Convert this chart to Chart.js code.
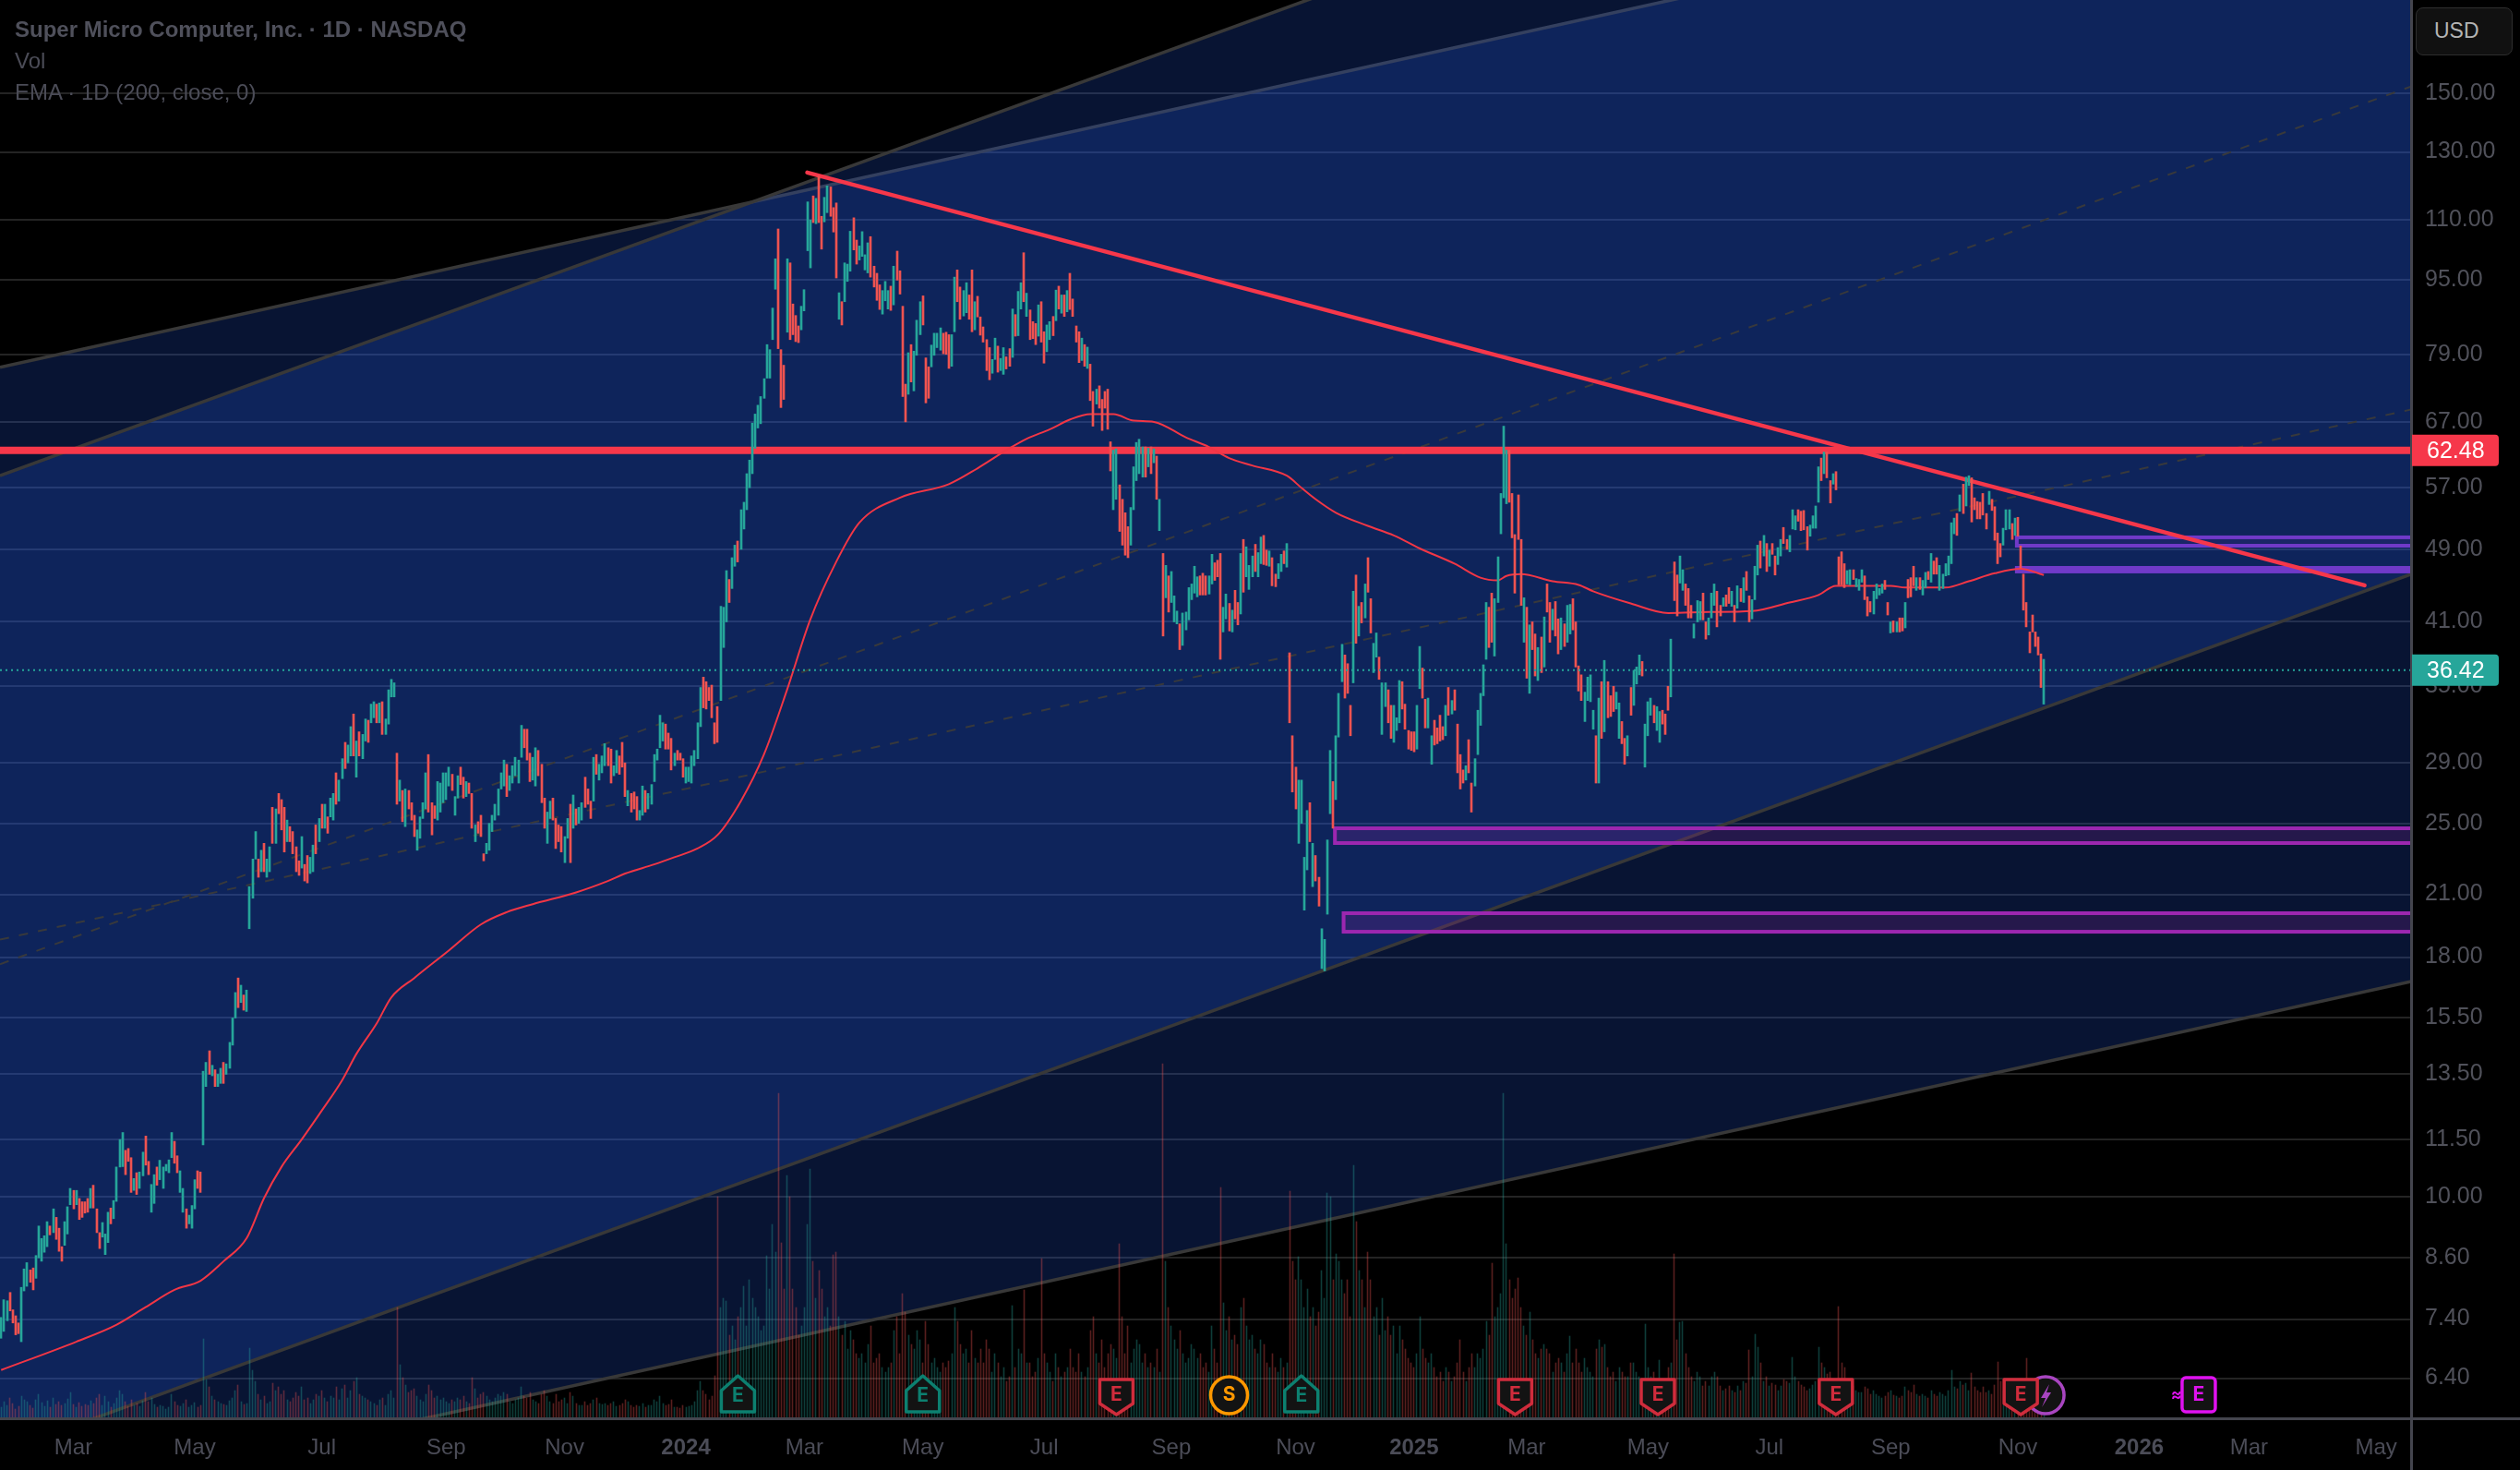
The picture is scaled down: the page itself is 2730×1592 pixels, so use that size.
<!DOCTYPE html>
<html>
<head>
<meta charset="utf-8">
<title>SMCI 1D</title>
<script src="https://cdn.jsdelivr.net/npm/chart.js@4"></script>
<style>
html, body { margin: 0; padding: 0; background: #000; }
#wrap { position: relative; width: 2730px; height: 1592px; overflow: hidden; }
canvas { position: absolute; left: 0; top: 0; }
.legend { position: absolute; left: 16px; font: 24px "Liberation Sans", sans-serif; color: #4b4c57; white-space: nowrap; line-height: 30px; }
#title { top: 17px; font-weight: 700; color: #4f505b; }
#vol { top: 51px; }
#ema { top: 85px; }
#usd { position: absolute; left: 2617px; top: 8px; width: 105px; height: 52px; box-sizing: border-box; background: #111; border: 1.5px solid #2e2e2e; border-radius: 8px; color: #b4b4b4; font: 23px "Liberation Sans", sans-serif; line-height: 49px; padding-left: 19px; }
</style>
</head>
<body>
<div id="wrap">
<canvas id="chart" width="2730" height="1592"></canvas>
<div class="legend" id="title">Super Micro Computer, Inc. · 1D · NASDAQ</div>
<div class="legend" id="vol">Vol</div>
<div class="legend" id="ema">EMA · 1D (200, close, 0)</div>
<div id="usd">USD</div>
</div>
<script>
// daily bars, ten per row
const barHigh = [
  7.43,7.76,7.74,7.9,7.57,7.46,7.33,8.0,8.37,8.5,
  8.35,8.39,8.65,9.3,9.02,9.08,9.4,9.3,9.7,9.5,
  9.25,8.84,9.4,9.75,10.2,10.15,10.15,9.95,9.87,9.87,
  9.95,10.2,10.28,9.7,9.15,9.38,9.12,9.62,9.72,9.9,
  10.75,11.5,11.7,11.2,11.25,11.0,10.45,10.6,10.62,11.15,
  11.6,10.9,10.3,10.55,10.75,10.93,10.75,10.82,10.94,11.7,
  11.45,11.05,10.65,10.2,9.7,9.55,9.78,10.42,10.65,10.62,
  13.6,13.9,14.3,13.8,13.65,13.5,13.7,13.9,13.85,14.6,
  15.5,16.5,17.1,16.8,16.4,16.6,21.4,22.9,24.5,22.9,
  23.4,23.8,22.9,23.6,26.0,25.9,26.9,26.5,26.0,25.2,
  24.8,24.5,23.6,22.8,24.2,22.6,23.1,23.0,23.7,24.9,
  25.3,26.2,26.2,25.4,26.6,26.9,28.3,27.8,29.3,30.5,
  30.3,31.7,32.7,30.6,31.3,31.1,32.3,32.2,33.5,33.7,
  33.5,33.6,33.7,32.3,34.7,35.6,35.3,29.7,27.8,27.1,
  27.2,27.1,26.3,25.5,24.6,25.4,26.3,28.3,29.6,26.3,
  26.1,27.7,27.6,28.3,28.3,28.7,28.2,26.7,28.1,28.7,
  28.0,27.7,27.6,26.9,24.9,25.1,25.5,23.2,23.8,25,
  25.5,26.2,27.2,28.3,29.2,28.9,28.1,28.8,29.4,29.2,
  31.8,31.5,31.5,29.7,29.4,30.1,29.9,28.9,26.6,25.7,
  26.4,26.6,25.3,24.9,24.8,24.2,25.3,26.2,26.8,25.9,
  26.0,26.3,28,27.2,26.4,29.4,29.6,28.9,29.5,30.4,
  30.1,30.0,28.8,29.9,29.5,30.5,29,27.1,26.9,27,
  26.7,25.8,27.4,27.1,26.9,27.5,29.6,30,32.6,32,
  31.9,31.2,30.8,29.7,29.9,29.7,29.3,28.7,28.7,29.5,
  29.9,32,34.9,35.8,35.4,34.9,35.1,32,33.3,42.6,
  42.5,46.5,45.5,48,49.5,50,54,55,59,61,
  66.8,68.3,69.8,71.3,74.5,81,80,88.6,100,107.6,
  80,77,100,99,89.5,87,84.8,89,92.7,115,
  110,116.7,116,122.6,111,116.3,119.6,119.3,113.4,114.7,
  92,90,99,98.7,107,110.6,104.7,103.2,106.9,101,
  104,105.6,98.2,96.5,93.8,92.5,94.6,92.5,93.5,98.2,
  101.9,97.1,89,73.5,79.4,81,79.7,86,90,91.3,
  78.4,76.7,80.9,83.3,83.3,84.4,83.3,83.5,83,83,
  95.6,97.3,93.3,92.5,94.3,91.5,97.3,90,91.2,86.7,
  84.6,82,80.4,78.1,82.3,80.7,78.3,80.4,78.6,80.2,
  88.4,87.2,92.3,94.3,101.5,91.9,88.2,85.7,85.3,89.3,
  90,83.6,85,85.7,86.8,92.6,93.5,91.5,91.5,92.5,
  96.5,90.6,84.8,83.6,82.3,81,80.5,77.2,72.2,72.6,
  73.2,70.8,72.2,72.6,63.8,62.5,62.7,57.4,55.4,53.6,
  51.8,54.3,60,63.7,64.2,63,63,62.8,63,62.7,
  61.6,55.4,48.5,47.1,45.9,46.4,43.7,42.1,40.8,41.9,
  42,44.6,45,47,45.8,45.9,46.2,45.9,45.9,48.4,
  47.4,47.7,48.5,42.5,43.9,42.9,42.2,44.3,43,48.5,
  50.2,49.3,47.1,48.2,49.6,48.6,50.5,50.7,48.9,48.8,
  48,46.1,47.3,48.4,48.8,49.7,38,31,28.7,27.8,
  27.8,23,25.8,26.3,23.8,23.1,21.9,19.3,18.8,24,
  29.9,27.7,31,34.4,38.8,37.8,37,33.4,44.2,46,
  42.6,43,45,48,43.4,38.9,39.9,37.6,35.3,35.3,
  34.7,33.4,33.4,32.4,35.5,35.4,33.5,31.4,31.3,31.3,
  33.4,38.6,36.6,33.9,34,31,32.2,31.6,32.6,31.7,
  33.4,34.9,33.8,34.7,31.9,29.6,28.5,28.8,30.7,27.6,
  29.3,33,34.4,36.9,43,42.5,44,43.4,48.1,56.2,
  66.3,62.5,62.5,56.2,50.8,56,50.2,43.5,42.5,40.7,
  41,39.8,38.5,39.5,41.5,45,43,42.3,43.1,41.3,
  41.4,40.8,42.7,42.8,43.4,41,36.8,36,34.5,35.8,
  36,33,31,34,35.4,37.3,35.4,34.2,35,34.5,
  33.6,32.1,30.8,31,34.9,36.4,36.7,37.8,37.2,31.9,
  33.7,34,33.4,33.3,32.9,33,32.7,35,39.3,47.5,
  46,48.2,46.6,45,44.5,42.7,40.8,43.2,43.1,44,
  41,41.4,44,45,44.2,42.7,43.5,43.8,44.6,44.2,
  42.7,44.8,44.5,45.7,46.4,43.7,43.3,47,49.5,50,
  50.7,49.7,48.9,49.7,48.2,49.2,50.2,51.7,50.2,50.7,
  54,53.2,54,53.8,53.9,51.8,52,53.2,54.5,60,
  61.3,62.2,62.2,58,59,59.3,48.1,48.7,47.3,46.5,
  46.6,46.6,45.6,45.5,46.6,45.9,43.6,43.1,44.2,45,
  44.5,45,45.4,43,41,41.1,41,41.4,41.4,43,
  45.5,45.7,47,45.7,45.7,45.4,46.3,46.4,48.5,47.6,
  48,47.1,46.1,47.3,48.2,52.3,52.9,53.5,56,57.5,
  58.5,58.7,58.4,55.6,55.1,55,56.2,53.5,56.5,55.4,
  54.4,51,49.7,51.6,54,54,52.2,52.9,53,49.4,
  46.1,43,40,41.7,40,39.5,37.9,37.4
];
const barLow = [
  7.06,7.18,7.37,7.55,7.33,7.12,7.14,7.0,7.93,8.02,
  8.1,7.95,8.18,8.6,8.53,8.72,8.84,9.1,9.15,9.0,
  8.74,8.53,8.87,9.12,9.8,9.7,9.8,9.45,9.5,9.6,
  9.62,9.72,9.72,9.15,8.8,9.05,8.67,8.93,9.35,9.47,
  9.88,10.75,10.76,10.55,10.9,10.1,10.15,10.05,10.2,10.52,
  10.8,10.55,9.62,9.83,10.28,10.42,10.2,10.65,10.6,11.0,
  10.85,10.6,10.1,9.62,9.25,9.35,9.25,9.7,10.2,10.1,
  11.35,13.1,13.5,13.45,13.1,13.1,13.2,13.2,13.5,13.7,
  14.5,15.5,15.9,16.1,15.8,15.75,19.3,20.8,22.9,21.9,
  22.2,22.2,21.9,22.2,23.8,23.8,25.6,24.6,23.3,23.9,
  23.9,23.2,22.2,22.0,22.4,21.7,21.6,22.1,22.2,23.2,
  23.9,24.7,24.7,24.4,25.4,25.2,26.2,26.4,27.9,28.6,
  29.0,29.5,29.5,28,29.5,29.3,30.6,30.5,32,32.4,
  32,32,31.1,31.1,31.9,34.1,34.1,26.2,26.4,25.1,
  24.8,25.9,25.2,24.2,23.4,24.1,25.3,25.9,25.7,24.3,
  25.3,25.2,25.7,26.3,26.5,27.4,27.1,25.5,26.6,27.5,
  26.6,26.7,26.9,24.7,23.9,24.4,24.2,22.8,23.2,23.4,
  24.5,25.2,25.5,27.2,27.4,26.7,27.1,27.6,28.1,27.6,
  29.4,30.1,29.2,27.7,27.8,27.4,28.1,26.3,24.7,23.8,
  25.3,25.2,23.5,23.9,23.3,22.7,24.1,22.7,24.7,24.9,
  25.0,25.2,26,26.2,25.3,26.4,28.2,27.8,28.3,28.8,
  28.8,27.6,28.1,28.3,28.2,28.7,26.7,26.1,25.7,25.9,
  25.2,25.2,25.5,25.7,25.9,26.2,27.7,29.2,30.1,30.6,
  30,30,28.5,28.8,29.2,29.2,28,27.6,27.7,27.6,
  28.8,29.3,31.7,33.2,33.1,33.8,32.4,30.4,30.5,33.8,
  38.5,41,43,44.5,47,47.5,49,51.5,54,57,
  59,62.8,66,66.7,71,74.6,74.6,82,92.8,80.2,
  69.4,70.8,83.5,82,83,81.6,81.4,84,88,102,
  97.8,109.3,109,109.3,102.4,109.5,112,111,106.8,95.4,
  86.2,85,90,94.6,97,102.2,98.7,99.7,100.6,97.3,
  96.6,95.6,93.3,90.3,88.3,87.3,90.2,88.4,88.1,89.3,
  94.9,91.7,71.3,67,71.7,73.9,72.3,78.9,83,85,
  70.2,71,76.7,78.9,80.4,79.9,79.2,79.1,76.4,76.8,
  83.6,90,86.2,86.9,87.6,86.2,83.6,84,86.7,82.9,
  81.5,76,74.3,75.5,78.1,75.7,76,75.3,76.3,76.8,
  78.5,82.7,82.8,88.4,90,86.8,82,82.2,81,82.7,
  81.5,77.4,79.6,82,82.8,85.9,88.4,87.5,86.8,87.8,
  88.3,86.8,81.5,77.5,77.9,76.8,76.4,70.6,66.3,70,
  69.3,65.6,69.3,65.8,59.4,54,55.4,51.2,49.5,48.3,
  48,49.5,54,58,59,58.5,58.5,60,59,60.6,
  55.4,51.3,39.6,43.5,42,43,41,40.8,38.3,38.7,
  40.2,41.2,43.3,44,43.6,43.8,43.8,43.8,43.9,45,
  45.4,45.8,37.4,40,41.3,40.1,40,41.3,40.7,41.8,
  44.1,45.8,44.4,45.8,46.4,45.8,47.3,47.2,47.1,47,
  44.8,44.7,45.6,46.4,47.3,46.9,32,27,25.9,23.8,
  25,20.2,22.3,23.9,21.4,21.7,20.4,17.5,17.4,20,
  25.6,24.7,26.5,30.9,35.4,34,34.4,31,35.3,38.9,
  39.6,40.9,41.4,44.1,39.9,36.2,37.6,35.6,31.1,33.3,
  32,30.8,30.5,31.4,32,33.1,31.5,30,29.9,29.8,
  30,34.8,34,31.6,31.6,28.9,30.3,30.4,30.6,30.7,
  31,32.6,32.7,33,28.3,27.2,27.6,27.8,28.3,25.7,
  27.4,29.6,31.8,34.2,37.4,38.5,39,37.7,43,50.9,
  55.6,54.8,55,50.4,44,50.2,42.7,39,35.7,34.4,
  38.3,35.9,35.5,36.2,36.7,42,39,40.2,39.6,37.9,
  38.3,38.6,39,39.8,40.2,36.7,34.6,33.8,32.1,33.8,
  33.7,31.5,27.6,27.6,30.8,31.3,32.4,32.5,32.9,33.1,
  30.8,30.4,28.9,29.5,32.6,33.4,35.2,36,35.9,28.7,
  31,32.6,32,31.4,30.5,31.9,31.1,33,34.1,43.2,
  41.6,45.1,44.3,42.7,41.4,41.4,39.4,41,41.2,41.2,
  39.3,39.7,41.4,42.7,40.5,41.6,42.6,42.6,42.9,42.6,
  41,42.4,43.1,43,44.3,41,41.3,43.3,46,46.8,
  48.2,46.4,47,48.4,46,47.2,48.2,49.7,49,48.7,
  51.5,51.4,52.5,51.3,51.4,48.9,50.6,51.6,51.6,55,
  58,59,58.4,54.9,57.5,56.7,44.9,44.9,44.6,45,
  44.9,45.5,44.7,44.3,45.2,43.3,41.6,42,41.8,43.4,
  43.8,44,44.4,41.7,39.9,40,40,40,40.1,40.4,
  43.5,43.6,44.8,44.3,44.4,43.8,44.6,45.5,45.2,46.1,
  46.1,44.3,44.5,45.9,46,47.3,50.9,50.7,53.8,53.5,
  54.5,57.3,52.4,54,52.8,52.8,53.3,51.5,54.7,53.9,
  50.1,47.3,48.1,49.5,51.4,51.5,50.2,50.7,50.6,46.8,
  42.2,40.5,38,40,38.6,37.8,34.9,33.5
];
// u = closed up, d = closed down
const barDir = [
  "uuudddduuu","dduuuuudud","dduuududdd","duddduuudu","uuuddduduu","dduuduuuuu","dduuduuudd","uududuuduu",
  "uududuuuud","uduududddu","ddddudduud","ududuuduud","uududuuduu","duduuuudud","uddduuuudd","duuuuuduud",
  "dudduddduu","uuuuuduuuu","uddduudddu","udddduudud","uuddduduuu","dduudddudd","duuduuuuuu","ddduddduuu",
  "uuuddddddu","uuduuduuuu","uuuuuuuuud","ddudddduuu","ududduuddd","uduuudduuu","udddduuudu","dddduduuud",
  "dduuuudddu","udduuddudd","ddduuduudd","uduududddu","dduudududu","ddddududdu","ddddduuddd","duuuuududu",
  "dududuuudu","uuuuuddduu","ddduududdu","duuuduuddu","dduududddu","uuududduuu","uduuudddud","ududduuduu",
  "dduuuddddd","uudduudddd","ududdddudd","uuuuudduuu","uudddddudu","ddududdudd","uduudddduu","uudududddu",
  "udduduuudu","uuduudddud","duuddduuud","duuudduddu","dududduuud","ududduuddu","uudddduuuu","duddudddd" + "u",
  "uduuuddduu","uuddududdu","ddduduudud","duuuuuudud","uuddddddud","ddduuududd","dddddddu"
].join("").split("");
const barVolume = [
  12,18,14,22,16,10,13,24,20,18,
  14,11,20,26,17,13,19,12,22,15,
  18,14,16,21,28,15,12,17,13,15,
  14,19,16,22,26,14,24,18,12,16,
  22,30,26,18,13,20,14,16,13,19,
  28,18,22,15,12,14,13,10,12,26,
  18,14,13,16,20,12,14,17,12,14,
  86,42,34,24,20,18,16,15,14,19,
  22,30,36,18,15,16,76,52,40,26,
  20,24,16,18,38,30,34,26,30,20,
  18,22,28,24,34,20,22,16,20,26,
  24,30,22,18,24,22,34,20,32,36,
  22,30,40,44,26,24,22,20,18,16,
  14,20,22,14,26,30,22,120,58,44,
  36,28,30,32,24,20,18,26,36,30,
  22,24,20,22,18,16,20,18,22,20,
  24,18,16,44,32,22,26,28,24,20,
  18,22,26,24,28,26,18,16,20,22,
  34,24,22,28,20,18,16,26,30,24,
  18,16,26,18,20,22,16,28,24,16,
  14,14,18,14,16,20,22,16,15,16,
  14,16,18,13,14,16,20,18,14,12,
  14,13,16,12,14,14,20,18,24,16,
  14,15,20,12,12,11,14,12,13,14,
  18,30,40,30,26,20,24,46,240,120,
  130,127,90,100,85,110,120,143,100,150,
  130,120,110,95,100,176,140,210,180,352,
  190,140,263,240,140,120,90,100,120,210,
  270,170,130,160,140,110,120,100,177,180,
  110,90,105,75,95,85,70,65,70,60,
  80,100,60,65,70,55,50,55,60,95,
  110,70,135,115,90,80,75,95,85,60,
  105,80,60,65,55,50,60,55,62,70,
  120,105,80,70,75,60,95,65,60,75,
  60,85,75,50,70,60,45,55,40,45,
  122,55,75,70,139,60,60,45,50,65,
  173,70,60,50,40,70,55,45,50,55,
  75,55,50,70,50,45,55,95,110,70,
  60,85,55,70,80,75,65,189,110,70,
  100,60,75,85,80,60,70,55,60,55,
  75,50,384,170,120,100,85,75,95,70,
  60,65,80,75,65,70,55,60,50,100,
  75,60,250,125,95,110,85,90,80,120,
  130,100,85,90,75,70,85,80,60,55,
  70,55,50,65,55,60,246,170,150,175,
  150,120,140,110,120,100,115,160,130,244,
  240,150,178,170,150,135,150,110,274,213,
  160,150,120,180,150,110,120,90,130,95,
  110,90,100,70,100,85,75,65,60,55,
  70,110,75,65,60,70,55,45,50,40,
  55,50,40,45,60,85,50,40,55,70,
  55,70,65,75,105,90,168,110,120,135,
  352,189,150,130,140,152,120,100,90,115,
  85,70,65,75,80,75,70,50,60,65,
  60,50,70,89,60,75,60,50,65,55,
  50,45,75,85,77,80,55,45,50,40,
  55,50,45,45,60,60,50,45,40,102,
  55,45,50,40,63,40,35,55,60,178,
  85,104,105,70,55,45,40,50,45,35,
  40,35,45,50,45,35,30,32,35,30,
  28,35,30,40,38,74,45,91,77,60,
  40,45,35,38,36,30,35,42,40,38,
  66,45,40,36,34,30,32,36,40,77,
  60,55,48,50,36,38,121,60,55,42,
  40,35,30,28,28,34,32,26,30,26,
  24,22,24,28,30,25,24,22,24,34,
  30,28,36,26,24,26,24,22,30,26,
  24,28,26,24,30,52,34,32,40,36,
  38,30,49,34,30,28,34,28,30,26,
  36,61,40,30,34,28,26,28,24,26,
  30,65,40,30,34,28,32,18
];

// 200 EMA, sampled along the curve
const emaBar = [0,26,40,50,60,69,77,85,91,97,104,111,118,123,130,135,143,155,166,175,184,199,210,216,226,233,241,248,256,264,272,280,289,297,311,328,338,349,355,363,370,377,385,392,399,410,418,425,433,445,450,455,462,473,482,491,503,512,518,521,526,537,546,551,564,577,591,606,619,629,635,654,659,673,681,690,699,707];
const emaValue = [6.53,7.0,7.3,7.62,7.95,8.13,8.53,9.03,9.96,10.75,11.5,12.35,13.3,14.2,15.3,16.3,17.1,18.3,19.5,20.1,20.5,21.1,21.7,22.1,22.6,23,23.5,24.3,26.4,29.6,34.7,41.2,47.5,52.3,55.6,57.5,59.8,62.8,64.3,65.8,67.4,68.3,68.3,67.2,67,64.5,63,61.3,60.2,58.7,57,55.4,53.6,51.9,50.7,49.1,47.3,45.7,45.4,45.9,46.1,45.3,44.9,44.2,42.9,41.9,42,42.1,43,43.8,44.8,44.8,44.6,44.6,45.3,46.2,46.7,46];

// axis ticks
const priceTicks = [150,130,110,95,79,67,57,49,41,35,29,25,21,18,15.5,13.5,11.5,10,8.6,7.4,6.4];
const dateTickBar = [25,67,111,154,195,237,278,319,361,405,448,489,528,570,612,654,698,740,778,822];
const dateTickLabel = ["Mar","May","Jul","Sep","Nov","2024","Mar","May","Jul","Sep","Nov","2025","Mar","May","Jul","Sep","Nov","2026","Mar","May"];

// drawings: channel edges are [price at left edge, price at right edge]
const axisBarMin = -0.4, axisBarMax = 834.1;
const priceMin = 5.8, priceMax = 188.8;
const channelA = { upper: [58.7, 506], lower: [5.33, 46.1], mid: [17.69, 152.7] };
const channelB = { upper: [76.6, 281.4], lower: [4.61, 16.95], mid: [18.79, 69.06] };
const trendBars = [279, 818], trendPrices = [123.6, 44.85];
const levelPrice = 62.48, lastPrice = 36.42;
const boxStart = [697, 697, 461, 464];
const boxTop = [50.69, 47.03, 24.81, 20.14];
const boxBottom = [49.21, 46.19, 23.71, 19.07];
const boxKind = ["violet", "violet", "purple", "purple"];

// event badges under the volume
const eventBar = [707.6, 255, 319, 386, 425, 450, 524, 573.4, 635, 699, 760.6];
const eventKind = ["bolt", "upE", "upE", "downE", "split", "upE", "downE", "downE", "downE", "downE", "nextE"];

const UP = "#26a69a", DOWN = "#ef5350", LINE_RED = "#f6374a", CHANNEL = "#383838";
const bars = barHigh.map((h, i) => i);

function edge(pair) {
  return [{ x: axisBarMin, y: pair[0] }, { x: axisBarMax, y: pair[1] }];
}

function edgeSet(label, pair, opts) {
  return Object.assign({
    type: "line", label: label, data: edge(pair), borderColor: CHANNEL, borderWidth: 3.5,
    pointRadius: 0, fill: false, tension: 0
  }, opts || {});
}

const datasets = [
  edgeSet("A upper", channelA.upper, { order: 20, fill: { target: 2 }, backgroundColor: "rgba(41,98,255,0.2)" }),
  edgeSet("B upper", channelB.upper, { order: 20, fill: { target: 3 }, backgroundColor: "rgba(41,98,255,0.2)" }),
  edgeSet("A lower", channelA.lower, { order: 19 }),
  edgeSet("B lower", channelB.lower, { order: 19 }),
  edgeSet("A mid", channelA.mid, { order: 18, borderWidth: 2, borderDash: [10, 11], borderColor: "#38393c" }),
  edgeSet("B mid", channelB.mid, { order: 18, borderWidth: 2, borderDash: [10, 11], borderColor: "#38393c" }),
  {
    type: "bar", label: "Vol", yAxisID: "yVol", grouped: false, order: 10, barThickness: 1,
    data: bars.map(i => ({ x: i, y: barVolume[i] })),
    backgroundColor: bars.map(i => barDir[i] === "u" ? "rgba(38,166,154,0.36)" : "rgba(239,83,80,0.36)")
  },
  {
    type: "line", label: "Level", order: 5, borderColor: LINE_RED, borderWidth: 8, pointRadius: 0,
    data: [{ x: axisBarMin, y: levelPrice }, { x: axisBarMax, y: levelPrice }]
  },
  {
    type: "line", label: "Trend", order: 4, borderColor: LINE_RED, borderWidth: 4.5, pointRadius: 0, borderCapStyle: "round",
    data: trendBars.map((b, i) => ({ x: b, y: trendPrices[i] }))
  },
  {
    type: "line", label: "EMA", order: 3, borderColor: "#f23645", borderWidth: 2, pointRadius: 0,
    cubicInterpolationMode: "monotone",
    data: emaBar.map((b, i) => ({ x: b, y: emaValue[i] }))
  },
  {
    type: "bar", label: "SMCI", grouped: false, order: 2, barThickness: 2,
    data: bars.map(i => ({ x: i, y: [barLow[i], barHigh[i]] })),
    backgroundColor: bars.map(i => barDir[i] === "u" ? UP : DOWN)
  },
  {
    type: "line", label: "Last", order: 1, borderColor: UP, borderWidth: 2, borderDash: [2, 4], pointRadius: 0,
    data: [{ x: axisBarMin, y: lastPrice }, { x: axisBarMax, y: lastPrice }]
  }
];
const VOL_INDEX = 6, CANDLE_INDEX = 10;

// bars sit on whole pixels, like the original
const snapBars = {
  id: "snapBars",
  afterDatasetsUpdate(chart) {
    chart.getDatasetMeta(CANDLE_INDEX).data.forEach(el => { el.x = Math.round(el.x); });
    chart.getDatasetMeta(VOL_INDEX).data.forEach(el => { el.x = Math.floor(el.x) + 0.5; });
  }
};

// rectangles drawn on top of the volume, under the price bars
const zones = {
  id: "zones",
  afterDatasetDraw(chart, args) {
    if (args.index !== VOL_INDEX) return;
    const { ctx, chartArea: a, scales: { x, y } } = chart;
    ctx.save();
    ctx.beginPath();
    ctx.rect(a.left, a.top, a.width, a.height);
    ctx.clip();
    boxStart.forEach((b, i) => {
      const left = x.getPixelForValue(b), top = y.getPixelForValue(boxTop[i]), bottom = y.getPixelForValue(boxBottom[i]);
      const violet = boxKind[i] === "violet";
      ctx.fillStyle = violet ? "rgba(113,58,200,0.12)" : "rgba(156,39,176,0.2)";
      ctx.strokeStyle = violet ? "#703ac8" : "#9c27b0";
      ctx.lineWidth = 4;
      ctx.fillRect(left, top, a.right + 20 - left, bottom - top);
      ctx.strokeRect(left + 2, top + 2, a.right + 20 - left, bottom - top - 4);
    });
    ctx.restore();
  }
};

function badgeLetter(ctx, letter, cx, cy, color) {
  ctx.fillStyle = color;
  ctx.font = "700 21px Inter, sans-serif";
  ctx.textAlign = "center";
  ctx.textBaseline = "middle";
  ctx.fillText(letter, cx, cy);
}

function drawBadge(ctx, kind, cx, base) {
  ctx.lineWidth = 3.5;
  ctx.lineJoin = "round";
  if (kind === "upE" || kind === "downE") {
    const color = kind === "upE" ? "#0c8070" : "#d02c3c";
    ctx.beginPath();
    if (kind === "upE") {
      ctx.moveTo(cx, base - 46); ctx.lineTo(cx + 18, base - 30); ctx.lineTo(cx + 18, base - 7);
      ctx.lineTo(cx - 18, base - 7); ctx.lineTo(cx - 18, base - 30);
    } else {
      ctx.moveTo(cx - 18, base - 42); ctx.lineTo(cx + 18, base - 42); ctx.lineTo(cx + 18, base - 16);
      ctx.lineTo(cx, base - 4); ctx.lineTo(cx - 18, base - 16);
    }
    ctx.closePath();
    ctx.fillStyle = "#131313"; ctx.fill();
    ctx.strokeStyle = color; ctx.stroke();
    badgeLetter(ctx, "E", cx, kind === "upE" ? base - 24 : base - 25, color);
  } else if (kind === "split") {
    ctx.beginPath();
    ctx.arc(cx, base - 25, 20, 0, Math.PI * 2);
    ctx.fillStyle = "#131313"; ctx.fill();
    ctx.strokeStyle = "#ff9800"; ctx.stroke();
    badgeLetter(ctx, "S", cx, base - 25, "#ff9800");
  } else if (kind === "bolt") {
    ctx.beginPath();
    ctx.arc(cx, base - 25, 20, 0, Math.PI * 2);
    ctx.fillStyle = "#131313"; ctx.fill();
    ctx.strokeStyle = "#a845c0"; ctx.stroke();
    ctx.beginPath();
    ctx.moveTo(cx + 4, base - 37); ctx.lineTo(cx - 5, base - 22); ctx.lineTo(cx, base - 22);
    ctx.lineTo(cx - 4, base - 12); ctx.lineTo(cx + 6, base - 28); ctx.lineTo(cx + 1, base - 28);
    ctx.closePath();
    ctx.fillStyle = "#a845c0"; ctx.fill();
  } else {
    const color = "#e012f0";
    ctx.beginPath();
    ctx.roundRect(cx - 18, base - 44, 36, 37, 4);
    ctx.fillStyle = "#131313"; ctx.fill();
    ctx.strokeStyle = color; ctx.stroke();
    badgeLetter(ctx, "E", cx, base - 25, color);
    ctx.font = "700 18px Inter, sans-serif";
    ctx.fillStyle = color;
    ctx.fillText("≈", cx - 24, base - 25);
  }
}

// axis frame, price tags and badges
const frame = {
  id: "frame",
  afterDraw(chart) {
    const { ctx, chartArea: a, scales: { x, y } } = chart;
    ctx.save();
    eventBar.forEach((b, i) => drawBadge(ctx, eventKind[i], x.getPixelForValue(b), a.bottom));

    ctx.fillStyle = "#44454e";
    ctx.fillRect(a.right - 1, 0, 3, chart.height);
    ctx.fillRect(0, a.bottom - 1, chart.width, 3);

    [[levelPrice, LINE_RED], [lastPrice, UP]].forEach(([price, color]) => {
      const py = y.getPixelForValue(price);
      ctx.beginPath();
      ctx.roundRect(a.right + 1, py - 17, 94, 34, [0, 4, 4, 0]);
      ctx.fillStyle = color;
      ctx.fill();
      ctx.fillStyle = "#fff";
      ctx.font = "25px 'Liberation Sans', sans-serif";
      ctx.textAlign = "left";
      ctx.textBaseline = "middle";
      ctx.fillText(price.toFixed(2), 2629, py + 1);
    });
    ctx.restore();
  }
};

new Chart(document.getElementById("chart"), {
  type: "line",
  data: { datasets: datasets },
  plugins: [snapBars, zones, frame],
  options: {
    responsive: false,
    devicePixelRatio: 1,
    animation: false,
    events: [],
    layout: { padding: 0 },
    plugins: { legend: { display: false }, tooltip: { enabled: false }, title: { display: false } },
    scales: {
      x: {
        type: "linear", bounds: "data", offset: false, min: axisBarMin, max: axisBarMax,
        grid: { display: false, offset: false }, border: { display: false },
        afterBuildTicks(scale) { scale.ticks = dateTickBar.map(v => ({ value: v })); },
        afterFit(scale) { scale.height = 56; scale.paddingLeft = 0; scale.paddingRight = 0; },
        ticks: {
          autoSkip: false, maxRotation: 0, padding: 10,
          callback: (v, i) => dateTickLabel[i],
          color: "#4b4c57",
          font: ctx => /^\d/.test(dateTickLabel[ctx.index] || "")
            ? { family: "'Liberation Sans', sans-serif", size: 24, weight: "700" }
            : { family: "'Liberation Sans', sans-serif", size: 24, weight: "400" }
        }
      },
      y: {
        type: "logarithmic", position: "right", bounds: "data", min: priceMin, max: priceMax,
        grid: { color: "#242424", lineWidth: 2, drawTicks: false }, border: { display: false },
        afterBuildTicks(scale) { scale.ticks = priceTicks.map(v => ({ value: v })); },
        afterFit(scale) { scale.width = 118; scale.paddingTop = 0; scale.paddingBottom = 0; },
        ticks: {
          autoSkip: false, padding: 15, color: "#50515a",
          callback: v => Number(v).toFixed(2),
          font: { family: "'Liberation Sans', sans-serif", size: 25 }
        }
      },
      yVol: { type: "linear", display: false, min: 0, max: 1536, bounds: "data", beginAtZero: true }
    }
  }
});
</script>
</body>
</html>
